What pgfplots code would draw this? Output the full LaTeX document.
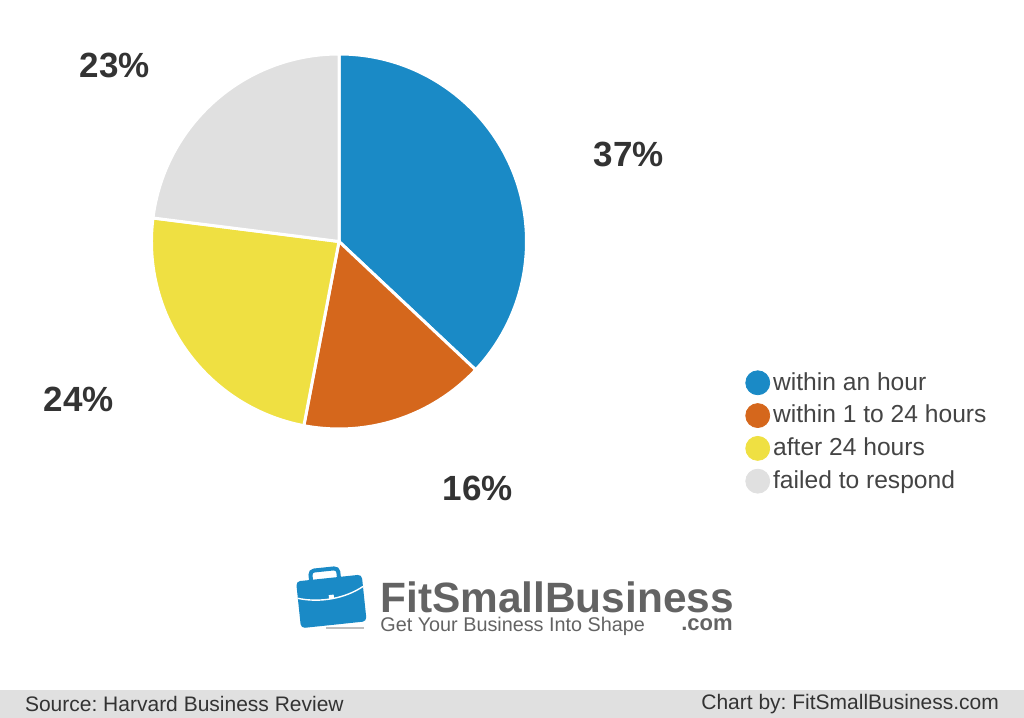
\documentclass[border=0pt]{standalone}
\usepackage{pgfplots}
\pgfplotsset{compat=1.18}
\usepackage{fontspec}
\setmainfont{Liberation Sans}
\frenchspacing
\definecolor{cBlue}{HTML}{1A8AC6}
\definecolor{cOrange}{HTML}{D5671C}
\definecolor{cYellow}{HTML}{EFE042}
\definecolor{cGray}{HTML}{E0E0E0}
\definecolor{cText}{HTML}{333333}
\definecolor{cLeg}{HTML}{444444}
\definecolor{cLogo}{HTML}{636363}
\definecolor{cBand}{HTML}{E0E0E0}
% shares (percent)
\def\vA{37}\def\vB{16}\def\vC{24}\def\vD{23}
\pgfmathsetmacro\aA{90}
\pgfmathsetmacro\aB{\aA-3.6*\vA}
\pgfmathsetmacro\aC{\aB-3.6*\vB}
\pgfmathsetmacro\aD{\aC-3.6*\vC}
\pgfmathsetmacro\aE{\aD-3.6*\vD}
\def\R{93.75pt}
\begin{document}
\begin{tikzpicture}
\useasboundingbox (0,0) rectangle (512pt,359pt);
\begin{axis}[
  at={(0,0)}, anchor=south west, scale only axis,
  width=512pt, height=359pt,
  xmin=0, xmax=1024, ymin=0, ymax=718,
  hide axis, clip=false,
  legend cell align=left,
  legend style={draw=none, fill=none, inner sep=0pt,
    at={(0.7275,0.4847)}, anchor=north west,
    font=\fontsize{12.3}{14}\selectfont, text=cLeg,
    row sep=4pt,
    nodes={inner sep=0pt},
    /tikz/every odd column/.append style={column sep=1.5pt}},
]
% band
\fill[cBand] (axis cs:0,0) rectangle (axis cs:1024,28);
\node[anchor=west, text=cText, font=\fontsize{10.5}{12}\selectfont] at (axis cs:18,14) {Source: Harvard Business Review};
\node[anchor=east, text=cText, font=\fontsize{10.5}{12}\selectfont] at (axis cs:1006,14) {Chart by: FitSmallBusiness.com};
% pie
\fill[cBlue, draw=white, line width=1.5pt] (axis cs:339,476.5) -- ++(\aA:\R) arc[start angle=\aA, end angle=\aB, radius=\R] -- cycle;
\fill[cOrange, draw=white, line width=1.5pt] (axis cs:339,476.5) -- ++(\aB:\R) arc[start angle=\aB, end angle=\aC, radius=\R] -- cycle;
\fill[cYellow, draw=white, line width=1.5pt] (axis cs:339,476.5) -- ++(\aC:\R) arc[start angle=\aC, end angle=\aD, radius=\R] -- cycle;
\fill[cGray, draw=white, line width=1.5pt] (axis cs:339,476.5) -- ++(\aD:\R) arc[start angle=\aD, end angle=\aE, radius=\R] -- cycle;
% labels
\begin{scope}[every node/.style={font=\bfseries\fontsize{17.5}{20}\selectfont, text=cText, inner sep=0pt}]
\node at (axis cs:629,564) {37\%};
\node at (axis cs:478,230) {16\%};
\node at (axis cs:79,319) {24\%};
\node at (axis cs:115,653) {23\%};
\end{scope}
% legend
\addlegendimage{legend image code/.code={\fill[cBlue] (6pt,0pt) circle (6pt);}}
\addlegendentry{within an hour}
\addlegendimage{legend image code/.code={\fill[cOrange] (6pt,0pt) circle (6pt);}}
\addlegendentry{within 1 to 24 hours}
\addlegendimage{legend image code/.code={\fill[cYellow] (6pt,0pt) circle (6pt);}}
\addlegendentry{after 24 hours}
\addlegendimage{legend image code/.code={\fill[cGray] (6pt,0pt) circle (6pt);}}
\addlegendentry{failed to respond}
% logo
\begin{scope}[rotate around={6:(axis cs:330,120)}]
\fill[cBlue, rounded corners=2pt] (axis cs:298,93) rectangle (axis cs:364,140);
\draw[cBlue, line width=2pt, rounded corners=2pt] (axis cs:313,139) -- (axis cs:313,149) -- (axis cs:341,149) -- (axis cs:341,139);
\draw[white, line width=0.7pt] (axis cs:298,123) .. controls (axis cs:320,116) and (axis cs:345,118) .. (axis cs:364,128);
\fill[white] (axis cs:329,119) rectangle (axis cs:334,123);
\end{scope}
\fill[gray!50] (axis cs:326,89) rectangle (axis cs:364,91);
\node[anchor=base west, inner sep=0pt, text=cLogo, font=\bfseries\fontsize{21.2}{24}\selectfont] at (axis cs:380,105) {FitSmallBusiness};
\node[anchor=base west, inner sep=0pt, text=cLogo, font=\fontsize{9.9}{11}\selectfont] at (axis cs:380,86) {Get Your Business Into Shape};
\node[anchor=base east, inner sep=0pt, text=cLogo, font=\bfseries\fontsize{11}{12}\selectfont] at (axis cs:733,87) {.com};
\end{axis}
\end{tikzpicture}
\end{document}
